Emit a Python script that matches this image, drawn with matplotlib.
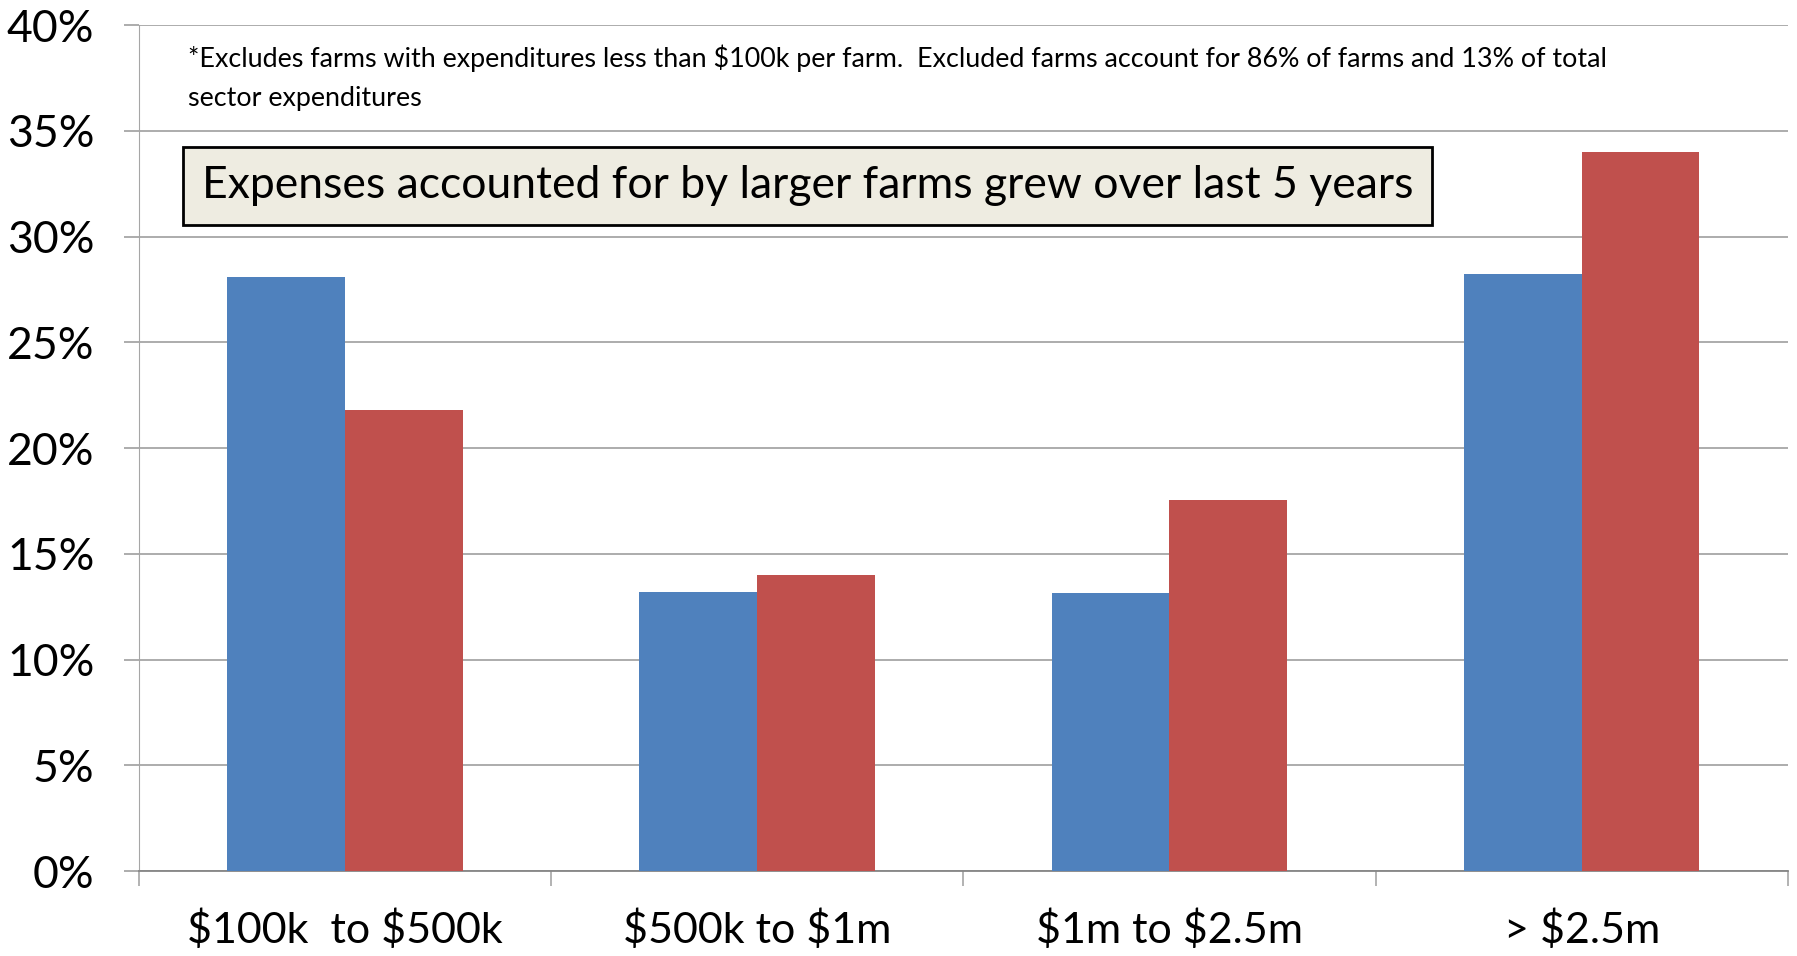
import numpy as np
import matplotlib
matplotlib.use('Agg')
import matplotlib.pyplot as plt
from matplotlib.ticker import PercentFormatter

plt.rcParams['font.family'] = ['Lato', 'DejaVu Sans']
plt.rcParams['text.parse_math'] = False

categories = ['$100k  to $500k', '$500k to $1m', '$1m to $2.5m', '> $2.5m']
earlier = [28.1, 13.2, 13.15, 28.25]
later = [21.8, 14.0, 17.55, 34.0]
y_ticks = [0, 5, 10, 15, 20, 25, 30, 35, 40]
note = ('*Excludes farms with expenditures less than $100k per farm.  Excluded farms account for 86% of farms and 13% of total\n'
        'sector expenditures')
headline = 'Expenses accounted for by larger farms grew over last 5 years'

blue = '#4F81BD'
red = '#C0504D'
grid_color = '#A6A6A6'

fig = plt.figure(figsize=(17.97, 9.56), dpi=100)
ax = fig.add_axes([0.0772, 0.0889, 0.9177, 0.8847])

x = np.arange(len(categories))
w = 1 / 3.5
ax.bar(x - w / 2, earlier, width=w, color=blue, zorder=3)
ax.bar(x + w / 2, later, width=w, color=red, zorder=3)

ax.set_xlim(-0.5, len(categories) - 0.5)
ax.set_ylim(0, 40)
ax.set_yticks(y_ticks)
ax.yaxis.set_major_formatter(PercentFormatter(decimals=0))
ax.yaxis.grid(True, color=grid_color, linewidth=1.3, zorder=0)

# category boundaries for the x ticks, labels in between
ax.set_xticks(np.arange(len(categories) + 1) - 0.5)
ax.set_xticklabels([])
ax.set_xticks(x, minor=True)
ax.set_xticklabels(categories, minor=True, fontsize=31)
ax.tick_params(axis='x', which='minor', length=0, pad=28)
ax.tick_params(axis='x', which='major', length=11, color=grid_color, width=1.2)
ax.tick_params(axis='y', labelsize=32, length=11, color=grid_color, width=1.3, pad=21)

for s in ['top', 'right']:
    ax.spines[s].set_visible(False)
ax.spines['left'].set_color(grid_color)
ax.spines['bottom'].set_color('#868686')
ax.spines['bottom'].set_linewidth(1.3)

ax.text(0.03, 0.938, note, transform=ax.transAxes, fontsize=19.4, va='center', ha='left',
        linespacing=1.7)
ax.text(0.4055, 0.81, headline, transform=ax.transAxes, fontsize=32, va='center', ha='center',
        bbox=dict(boxstyle='square,pad=0.42', facecolor='#EEECE1', edgecolor='black', linewidth=2),
        zorder=5)

fig.savefig('out.png', dpi=100)
